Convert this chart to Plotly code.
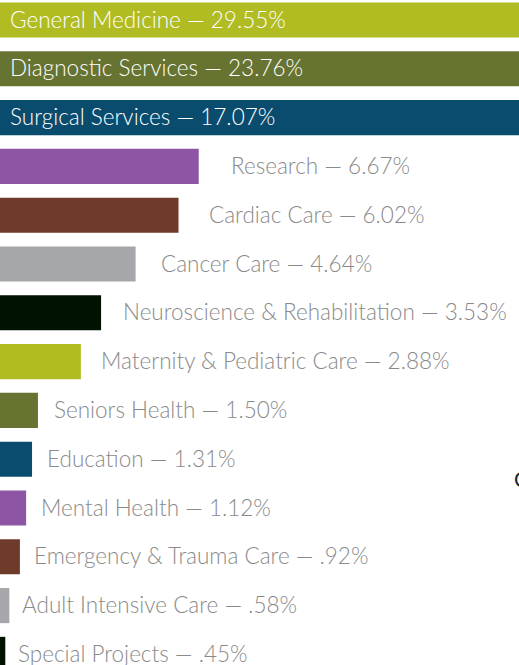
import plotly.graph_objects as go

categories = ["General Medicine", "Diagnostic Services", "Surgical Services", "Research",
              "Cardiac Care", "Cancer Care", "Neuroscience & Rehabilitation",
              "Maternity & Pediatric Care", "Seniors Health", "Education", "Mental Health",
              "Emergency & Trauma Care", "Adult Intensive Care", "Special Projects"]
values = [29.55, 23.76, 17.07, 6.67, 6.02, 4.64, 3.53, 2.88, 1.50, 1.31, 1.12, 0.92, 0.58, 0.45]
value_labels = ["29.55%", "23.76%", "17.07%", "6.67%", "6.02%", "4.64%", "3.53%",
                "2.88%", "1.50%", "1.31%", "1.12%", ".92%", ".58%", ".45%"]

palette = ["#b0bc22", "#677330", "#0a4c6e", "#8d55a3", "#6e3a2a", "#a6a7aa", "#021200"]
colors = [palette[i % len(palette)] for i in range(len(categories))]

W, H = 519, 665
fig = go.Figure()
fig.add_trace(go.Bar(
    y=categories, x=values, orientation="h",
    marker=dict(color=colors, line=dict(width=0)),
    hoverinfo="skip",
))

font_family = "Lato"
fsize = 22.5
annotations = []
for i, (c, v, lab) in enumerate(zip(categories, values, value_labels)):
    text = f"{c} — {lab}"
    if v > 10:
        annotations.append(dict(
            x=0, xref="paper", xshift=8, y=c, yref="y", yshift=1,
            text=text, showarrow=False, xanchor="left", yanchor="middle",
            font=dict(family=font_family, size=fsize, color="#ffffff", weight=300),
        ))
    else:
        annotations.append(dict(
            x=v * 1.1 + 0.3, xref="x", y=c, yref="y", yshift=1,
            text=text, showarrow=False, xanchor="left", yanchor="middle",
            font=dict(family=font_family, size=fsize, color="#8a8a8a", weight=300),
        ))

annotations.append(dict(
    x=1, xref="paper", xshift=-7, y=1 - 478 / H, yref="paper", yanchor="middle",
    text="C", showarrow=False, xanchor="left",
    font=dict(family=font_family, size=21, color="#222222"),
))

px_per_unit = 31.1
x0 = 8.7 / px_per_unit
pitch = 48.8
top = 20 / pitch
fig.update_layout(
    width=W, height=H,
    margin=dict(l=0, r=0, t=0, b=0),
    paper_bgcolor="white", plot_bgcolor="white",
    showlegend=False, bargap=0.28,
    xaxis=dict(range=[x0, x0 + W / px_per_unit], visible=False, fixedrange=True),
    yaxis=dict(range=[(H - 20) / pitch, -top], visible=False, fixedrange=True,
               categoryorder="array", categoryarray=categories),
    annotations=annotations,
)
fig.write_html("out.html", config={"displayModeBar": False},
               post_script="document.body.style.margin='0';document.body.style.overflow='hidden';")
